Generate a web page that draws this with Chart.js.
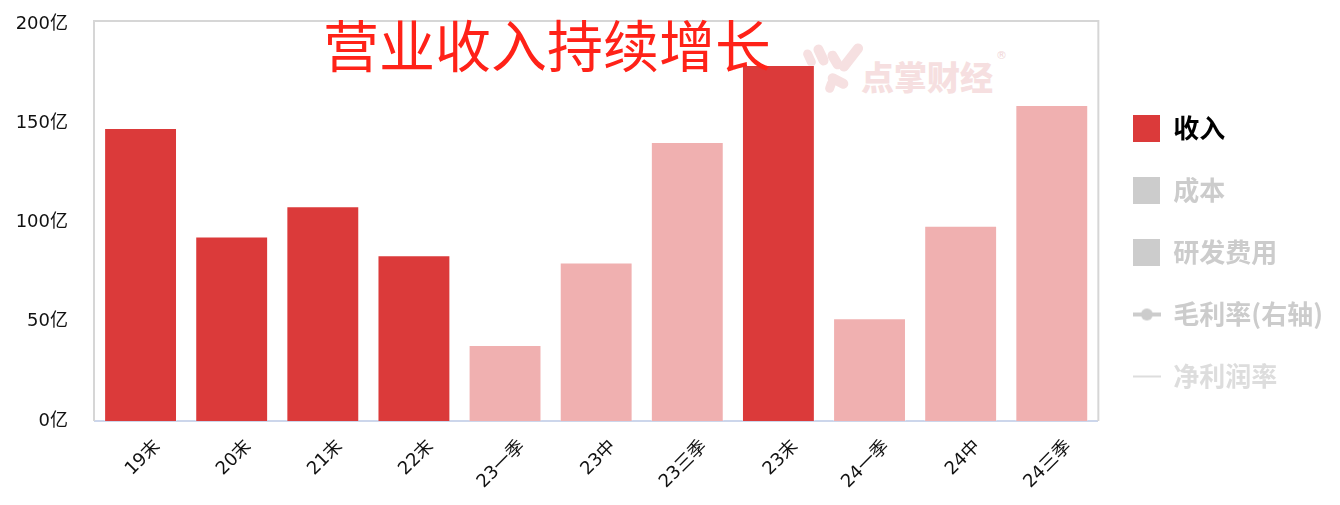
<!DOCTYPE html>
<html>
<head>
<meta charset="utf-8">
<script src="https://cdn.jsdelivr.net/npm/chart.js@4/dist/chart.umd.min.js"></script>
<style>
html,body{margin:0;padding:0;background:#fff;}
#wrap{position:relative;width:1340px;height:505px;overflow:hidden;}
#c{position:absolute;left:0;top:0;z-index:1;}
#title{position:absolute;left:323px;top:15px;font:400 56px/1 "Noto Sans CJK SC";color:#ff2218;z-index:2;white-space:nowrap;}
#wm{position:absolute;left:0;top:0;width:1340px;height:505px;z-index:0;}
.f{position:absolute;background:#f6e0e1;border-radius:6px;}
#wmtext{position:absolute;left:861px;top:60px;font:900 33px/1 "Noto Sans CJK SC";color:#f6dfe0;white-space:nowrap;}
#wmr{position:absolute;left:996px;top:50px;font:400 11px/1 "DejaVu Sans";color:#f1d6d8;}
</style>
</head>
<body>
<div id="wrap">
  <div id="wm">
    <div class="f" style="left:805px;top:49px;width:9px;height:18px;transform:rotate(-25deg);"></div>
    <div class="f" style="left:816px;top:44px;width:10px;height:22px;transform:rotate(-25deg);"></div>
    <div class="f" style="left:830px;top:50px;width:10px;height:20px;transform:rotate(-30deg);"></div>
    <div class="f" style="left:846px;top:41px;width:10px;height:33px;transform:rotate(38deg);"></div>
    <div class="f" style="left:833px;top:70px;width:10px;height:22px;transform:rotate(-63deg);"></div>
    <div class="f" style="left:826px;top:79px;width:9px;height:14px;transform:rotate(20deg);"></div>
    <div id="wmtext">点掌财经</div>
    <div id="wmr">®</div>
  </div>
  <canvas id="c" width="1340" height="505"></canvas>
  <div id="title">营业收入持续增长</div>
</div>
<script>
// ---- data ----
const categories = ['19末','20末','21末','22末','23一季','23中','23三季','23末','24一季','24中','24三季'];
const revenue = [147.6, 93.0, 108.2, 83.5, 38.3, 79.9, 140.6, 179.3, 51.7, 98.4, 159.2];
const yTicks = [0, 50, 100, 150, 200];
const seriesNames = ['收入', '成本', '研发费用', '毛利率(右轴)', '净利润率'];

// ---- styles ----
const DARK = '#db3a3a', LIGHT = '#f0b0b0', GREY = '#cccccc';
const TICKFONT = {family: '"DejaVu Sans", "Noto Sans CJK SC"', size: 18};

function boxImg(color) {
  const c = document.createElement('canvas'); c.width = 27; c.height = 27;
  const x = c.getContext('2d'); x.fillStyle = color; x.fillRect(0, 0, 27, 27); return c;
}
function lineDotImg(color) {
  const c = document.createElement('canvas'); c.width = 28; c.height = 14;
  const x = c.getContext('2d');
  x.strokeStyle = color; x.lineWidth = 4; x.beginPath(); x.moveTo(0, 7); x.lineTo(28, 7); x.stroke();
  x.fillStyle = color; x.beginPath(); x.arc(14, 7, 6, 0, Math.PI * 2); x.fill(); return c;
}
function lineImg(color) {
  const c = document.createElement('canvas'); c.width = 28; c.height = 6;
  const x = c.getContext('2d');
  x.strokeStyle = color; x.lineWidth = 2; x.beginPath(); x.moveTo(0, 3); x.lineTo(28, 3); x.stroke(); return c;
}
const legendStyles = [boxImg(DARK), boxImg(GREY), boxImg(GREY), lineDotImg(GREY), lineImg('#dddddd')];
const legendColors = ['#000000', GREY, GREY, GREY, '#dddddd'];

const framePlugin = {
  id: 'frame',
  beforeDatasetsDraw(chart) {
    const {ctx, chartArea: a} = chart;
    ctx.save();
    ctx.strokeStyle = '#d6d6d6';
    ctx.lineWidth = 2;
    ctx.beginPath();
    ctx.moveTo(a.left - 1, a.bottom);
    ctx.lineTo(a.left - 1, a.top - 1);
    ctx.lineTo(a.right + 1, a.top - 1);
    ctx.lineTo(a.right + 1, a.bottom);
    ctx.stroke();
    ctx.restore();
  }
};

new Chart(document.getElementById('c'), {
  data: {
    labels: categories,
    datasets: [
      {type: 'bar', label: seriesNames[0], data: revenue,
       backgroundColor: categories.map(c => c.endsWith('末') ? DARK : LIGHT),
       borderColor: 'rgba(255,255,255,0.35)', borderWidth: 1,
       categoryPercentage: 0.8, barPercentage: 1, yAxisID: 'y'},
      {type: 'bar', label: seriesNames[1], data: [], hidden: true, yAxisID: 'y'},
      {type: 'bar', label: seriesNames[2], data: [], hidden: true, yAxisID: 'y'},
      {type: 'line', label: seriesNames[3], data: [], hidden: true, yAxisID: 'y1'},
      {type: 'line', label: seriesNames[4], data: [], hidden: true, yAxisID: 'y1'}
    ]
  },
  options: {
    responsive: false,
    animation: false,
    events: [],
    layout: {padding: {top: 22, bottom: 22, left: 0, right: 7}},
    plugins: {
      tooltip: {enabled: false},
      title: {display: false},
      legend: {
        position: 'right',
        labels: {
          usePointStyle: true,
          pointStyleWidth: 27,
          boxHeight: 26,
          padding: 36,
          font: {family: '"Noto Sans CJK SC"', size: 26, weight: 'bold'},
          generateLabels(chart) {
            return chart.data.datasets.map((ds, i) => ({
              text: ds.label,
              fontColor: legendColors[i],
              fillStyle: legendColors[i],
              strokeStyle: 'transparent',
              lineWidth: 0,
              pointStyle: legendStyles[i],
              hidden: false,
              datasetIndex: i
            }));
          }
        }
      }
    },
    scales: {
      x: {
        grid: {display: false, drawTicks: false},
        border: {display: true, color: '#ccd6eb', width: 2},
        ticks: {font: TICKFONT, color: '#111', minRotation: 45, maxRotation: 45, padding: 15, labelOffset: 17, autoSkip: false},
        afterFit(s) {
          s.height = 62; s.paddingTop = 0; s.paddingBottom = 0;
          s._computeLabelArea = () => undefined; // let rotated labels extend below the axis box
        }
      },
      y: {
        min: 0, max: 201,
        grid: {display: false, drawTicks: false},
        border: {display: false},
        afterBuildTicks(s) { s.ticks = yTicks.map(v => ({value: v})); },
        ticks: {font: TICKFONT, color: '#111', padding: 27, callback: v => v + '亿'},
        afterFit(s) { s.width = 95; s.paddingTop = 0; s.paddingBottom = 0; }
      },
      y1: {display: false, position: 'right', min: 0, max: 100}
    }
  },
  plugins: [framePlugin]
});
</script>
</body>
</html>
